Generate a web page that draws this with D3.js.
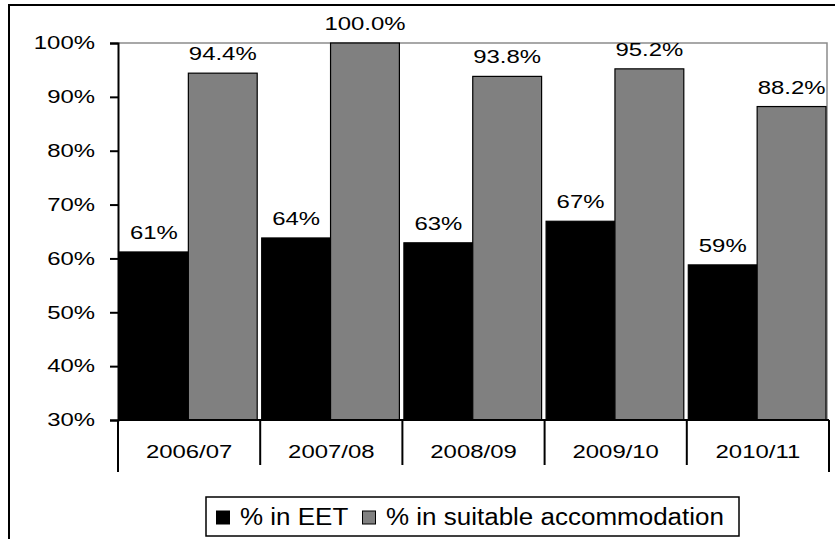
<!DOCTYPE html>
<html>
<head>
<meta charset="utf-8">
<script src="https://cdn.jsdelivr.net/npm/d3@7"></script>
<style>
  body { margin: 0; background: #fff; }
  text { font-family: "Liberation Sans", Arial, sans-serif; fill: #000; }
</style>
</head>
<body>
<div id="chart"></div>
<script>
// data
var years = ["2006/07", "2007/08", "2008/09", "2009/10", "2010/11"];
var seriesNames = ["% in EET", "% in suitable accommodation"];
var eet = [0.612, 0.638, 0.629, 0.669, 0.588];
var accommodation = [0.944, 1.0, 0.938, 0.952, 0.882];
var yTicks = [0.3, 0.4, 0.5, 0.6, 0.7, 0.8, 0.9, 1.0];
var seriesColors = ["#000000", "#808080"];
var labelFormats = [d3.format(".0%"), d3.format(".1%")];

var width = 835, height = 539;
var plot = { left: 118, right: 829, top: 43, bottom: 420 };
// the original text is stretched sideways
var STRETCH = "scale(1.33,1)";

var svg = d3.select("#chart")
  .append("svg")
  .attr("width", width)
  .attr("height", height);

// outer chart border (runs off the right and bottom)
svg.append("rect")
  .attr("x", 9)
  .attr("y", 5)
  .attr("width", 840)
  .attr("height", 560)
  .attr("fill", "white")
  .attr("stroke", "#000")
  .attr("stroke-width", 2);

var x0 = d3.scaleBand()
  .domain(years)
  .range([plot.left, plot.right]);

var x1 = d3.scaleBand()
  .domain([0, 1])
  .range([1.5, x0.bandwidth() - 3]);

var y = d3.scaleLinear()
  .domain([0.3, 1.0])
  .range([plot.bottom, plot.top]);

// plot area frame (grey top and right)
svg.append("path")
  .attr("d", "M" + plot.left + "," + plot.top + "H" + (plot.right - 2) + "V" + plot.bottom)
  .attr("fill", "none")
  .attr("stroke", "#8c8c8c")
  .attr("stroke-width", 1.5);

var rows = years.map(function(d, i) {
  return { year: d, values: [eet[i], accommodation[i]] };
});

var groups = svg.selectAll(".group")
  .data(rows)
  .enter()
  .append("g")
  .attr("class", "group")
  .attr("transform", function(d) { return "translate(" + x0(d.year) + ",0)"; });

groups.selectAll("rect")
  .data(function(d) { return d.values; })
  .enter()
  .append("rect")
  .attr("x", function(d, i) { return x1(i); })
  .attr("y", function(d) { return y(d); })
  .attr("width", x1.bandwidth())
  .attr("height", function(d) { return plot.bottom - y(d); })
  .attr("fill", function(d, i) { return seriesColors[i]; })
  .attr("stroke", "#000")
  .attr("stroke-width", 1.2);

groups.selectAll(".label")
  .data(function(d) { return d.values; })
  .enter()
  .append("text")
  .attr("class", "label")
  .attr("transform", function(d, i) {
    return "translate(" + (x1(i) + x1.bandwidth() / 2) + "," + (y(d) - 13) + ") " + STRETCH;
  })
  .attr("text-anchor", "middle")
  .style("font-size", "18px")
  .text(function(d, i) { return labelFormats[i](d); });

// y axis
var yAxis = d3.axisLeft(y)
  .tickValues(yTicks)
  .tickFormat(d3.format(".0%"))
  .tickSizeOuter(0)
  .tickSize(8)
  .tickPadding(15);

var ya = svg.append("g")
  .attr("transform", "translate(" + plot.left + ",0)")
  .call(yAxis);
ya.selectAll("text")
  .style("font-size", "18px")
  .style("font-family", "'Liberation Sans', Arial, sans-serif")
  .attr("fill", "#000")
  .attr("transform", function() {
    return "translate(" + d3.select(this).attr("x") + ",0) " + STRETCH;
  })
  .attr("x", 0);
ya.selectAll("line").attr("stroke", "#000").attr("stroke-width", 2);
ya.select(".domain").attr("stroke", "#000").attr("stroke-width", 2);

// category axis with boxes
var xa = svg.append("g");
xa.append("line")
  .attr("x1", plot.left).attr("x2", plot.right)
  .attr("y1", plot.bottom).attr("y2", plot.bottom)
  .attr("stroke", "#000").attr("stroke-width", 2);

var bounds = years.map(function(d) { return x0(d); }).concat([plot.right]);
xa.selectAll(".sep")
  .data(bounds)
  .enter()
  .append("line")
  .attr("class", "sep")
  .attr("x1", function(d) { return d; })
  .attr("x2", function(d) { return d; })
  .attr("y1", plot.bottom)
  .attr("y2", function(d, i) { return (i === 0 || i === bounds.length - 1) ? 472 : 465; })
  .attr("stroke", "#000")
  .attr("stroke-width", 2);

xa.selectAll(".cat")
  .data(years)
  .enter()
  .append("text")
  .attr("class", "cat")
  .attr("transform", function(d) {
    return "translate(" + (x0(d) + x0.bandwidth() / 2) + ",458) " + STRETCH;
  })
  .attr("text-anchor", "middle")
  .style("font-size", "18px")
  .text(function(d) { return d; });

// legend
var legend = svg.append("g").attr("transform", "translate(206,497)");
legend.append("rect")
  .attr("width", 533)
  .attr("height", 39)
  .attr("fill", "white")
  .attr("stroke", "#000")
  .attr("stroke-width", 1.5);

var legendX = [10, 156];
var items = legend.selectAll(".item")
  .data(seriesNames)
  .enter()
  .append("g")
  .attr("class", "item")
  .attr("transform", function(d, i) { return "translate(" + legendX[i] + ",0)"; });

items.append("rect")
  .attr("x", 0.5)
  .attr("y", 14)
  .attr("width", 13)
  .attr("height", 13)
  .attr("fill", function(d, i) { return seriesColors[i]; })
  .attr("stroke", "#000")
  .attr("stroke-width", 1);

items.append("text")
  .attr("transform", "translate(24,28) scale(1.13,1)")
  .style("font-size", "23px")
  .text(function(d) { return d; });
</script>
</body>
</html>
